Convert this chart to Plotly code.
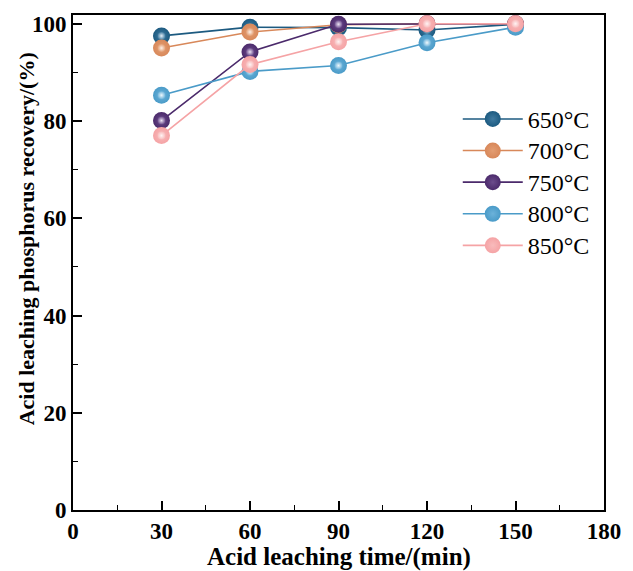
import plotly.graph_objects as go

time = [30, 60, 90, 120, 150]
labels = ["650°C", "700°C", "750°C", "800°C", "850°C"]
r650 = [97.5, 99.3, 99.2, 98.7, 99.9]
r700 = [95.0, 98.3, 99.8, 100.0, 100.0]
r750 = [80.1, 94.2, 99.9, 100.0, 100.0]
r800 = [85.3, 90.2, 91.4, 96.1, 99.3]
r850 = [77.0, 91.6, 96.3, 100.0, 100.0]
series = [r650, r700, r750, r800, r850]
colors = ["#1c5a80", "#d8885a", "#4b2a6b", "#4a9bc8", "#f5a3a5"]
mids = ["#3f7aa0", "#e39d72", "#6c4c8c", "#6cb2da", "#f8bbbc"]
highlights = ["#e3eef6", "#fdf0e7", "#ece3f4", "#eef8fd", "#fff3f3"]

fig = go.Figure()
for lab, ys, c, m, h in zip(labels, series, colors, mids, highlights):
    # marker.color is the edge colour, gradient.color the centre colour (radial)
    fig.add_trace(go.Scatter(
        x=time, y=ys, name='<span style="font-size:24px">' + lab + '</span>',
        mode="lines+markers", legendgroup=lab,
        line=dict(color=c, width=1.6),
        marker=dict(size=17, color=c, gradient=dict(type="radial", color=m),
                    line=dict(width=0)),
    ))
    fig.add_trace(go.Scatter(
        x=time, y=ys, mode="markers", showlegend=False, legendgroup=lab,
        hoverinfo="skip",
        marker=dict(size=8, color=m, gradient=dict(type="radial", color=h),
                    line=dict(width=0)),
    ))

font = "Liberation Serif"
fig.update_layout(
    width=633, height=571,
    margin=dict(l=73, r=19, t=14, b=61),
    paper_bgcolor="white", plot_bgcolor="white",
    font=dict(family=font, size=20, color="black"),
    showlegend=True,
    legend=dict(x=0.7246, y=0.832, xanchor="left", yanchor="top",
                bgcolor="rgba(0,0,0,0)", font=dict(size=22, family=font),
                itemwidth=60, tracegroupgap=0),
    xaxis=dict(
        range=[0, 180], tickvals=[0, 30, 60, 90, 120, 150, 180],
        ticks="inside", ticklen=9, tickwidth=1.5, tickcolor="black",
        minor=dict(dtick=15, ticks="inside", ticklen=5, tickwidth=1.2, tickcolor="black"),
        showline=True, linecolor="black", linewidth=1.8, mirror=True,
        showgrid=False, zeroline=False, ticklabelstandoff=-1,
        tickfont=dict(family=font, size=23, weight="bold"),
    ),
    yaxis=dict(
        range=[0, 101.8], tickvals=[0, 20, 40, 60, 80, 100],
        ticks="inside", ticklen=9, tickwidth=1.5, tickcolor="black",
        minor=dict(dtick=10, ticks="inside", ticklen=5, tickwidth=1.2, tickcolor="black"),
        showline=True, linecolor="black", linewidth=1.8, mirror=True,
        showgrid=False, zeroline=False,
        tickfont=dict(family=font, size=23, weight="bold"),
    ),
    annotations=[
        dict(text="<b>Acid leaching time/(min)</b>", xref="paper", yref="paper",
             x=0.501, y=-0.095, xanchor="center", yanchor="middle", showarrow=False,
             font=dict(family=font, size=25)),
        dict(text="<b>Acid leaching phosphorus recovery/(%)</b>", xref="paper", yref="paper",
             x=-0.0875, y=0.548, xanchor="center", yanchor="middle", showarrow=False,
             textangle=-90, font=dict(family=font, size=22)),
    ],
)
fig.write_html("out.html")
